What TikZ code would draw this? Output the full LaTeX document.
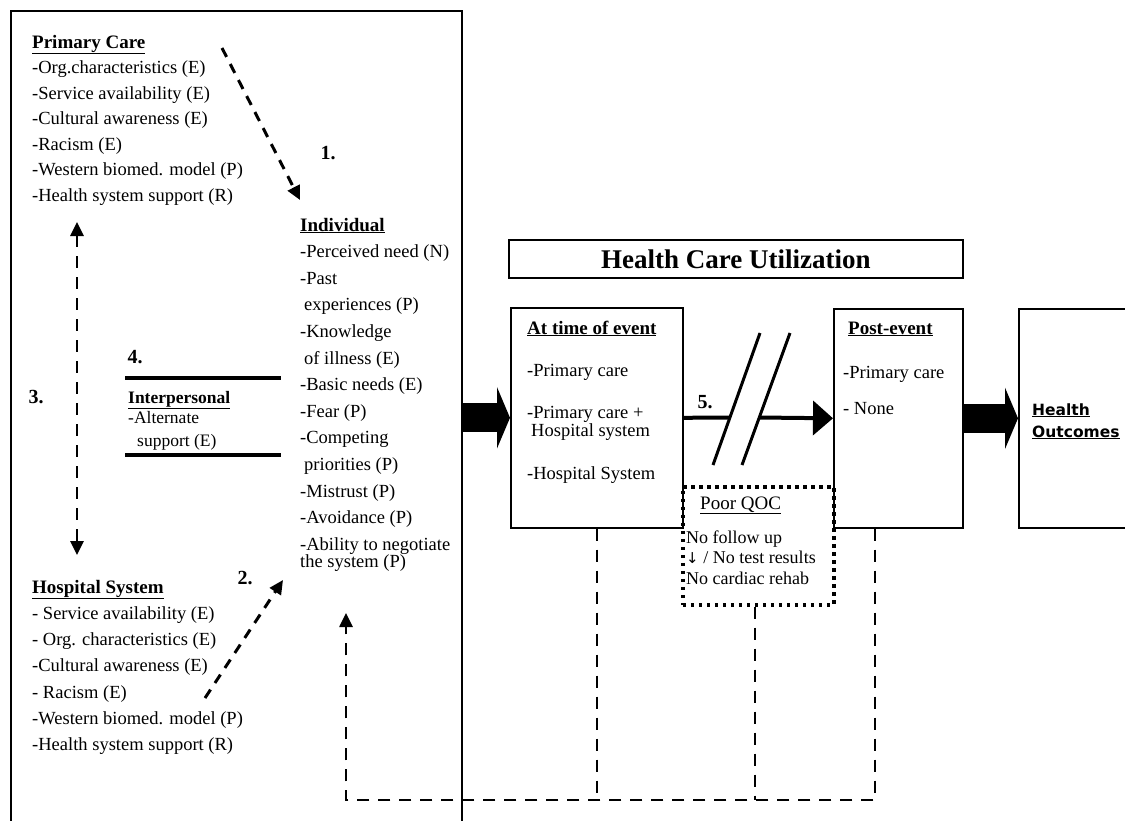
\documentclass[tikz,border=0pt]{standalone}
\usepackage{fontspec}
\setmainfont{Liberation Serif}
\newfontfamily\hofont{DejaVu Sans}
\newfontfamily\symfont{DejaVu Sans}
\usetikzlibrary{arrows.meta,calc}
\begin{document}
\begin{tikzpicture}[x=1pt,y=-1pt,
  txt/.style={font=\fontsize{18.5}{22}\selectfont, inner sep=0pt, anchor=base west},
  stxt/.style={font=\fontsize{17.5}{20}\selectfont, inner sep=0pt, anchor=base west},
  head/.style={font=\fontsize{19}{22}\selectfont\bfseries, inner sep=0pt, anchor=base west},
  num/.style={font=\fontsize{20}{22}\selectfont\bfseries, inner sep=0pt},
  box/.style={draw, line width=1.6pt, inner sep=0pt, anchor=north west},
  dasharr/.style={line width=3pt, dash pattern=on 10pt off 8pt, -{Triangle[length=14pt,width=13pt]}},
  vdash/.style={line width=2.6pt, dash pattern=on 12pt off 9pt},
  tipu/.style={-{Triangle[length=14pt,width=13pt]}},
  big/.style={line width=29pt, -{Triangle[length=13pt,width=61pt]}},
  dotbox/.style={draw, line width=3.5pt, dash pattern=on 3.5pt off 4.5pt, inner sep=0pt, anchor=north west},
]
\useasboundingbox (0,0) rectangle (1125,820);

% left panel
\node[box, minimum width=451pt, minimum height=840pt] (lp) at (10,10) {};

% Primary care
\node[head] (pch) at (32,48) {\underline{Primary Care}};
\foreach \lbl [count=\i] in {{-Org.characteristics (E)},{-Service availability (E)},{-Cultural awareness (E)},{-Racism (E)},{-Western biomed. model (P)},{-Health system support (R)}}
  \node[txt] (pc\i) at (32,{48+25.5*\i}) {\lbl};

% Individual
\node[head] (indh) at (300,231) {\underline{Individual}};
\foreach \lbl [count=\i] in {{-Perceived need (N)},{-Past},{\hspace{4pt}experiences (P)},{-Knowledge},{\hspace{4pt}of illness (E)},{-Basic needs (E)},{-Fear (P)},{-Competing},{\hspace{4pt}priorities (P)},{-Mistrust (P)},{-Avoidance (P)},{-Ability to negotiate}}
  \node[txt] (in\i) at (300,{231+26.6*\i}) {\lbl};
\node[txt] (in13) at (300,567) {the system (P)};

% arrow 1
\coordinate (a1s) at (222,48);
\coordinate (a1e) at (300,200);
\draw[dasharr] (a1s) -- (a1e);
\node[num] (n1) at (328,153) {1.};

% arrow 3
\coordinate (a3t) at (77,222);
\coordinate (a3b) at (77,555);
\draw[vdash, {Triangle[length=14pt,width=13pt]}-{Triangle[length=14pt,width=13pt]}] (a3t) -- (a3b);
\node[num] (n3) at (36,397) {3.};

% interpersonal
\node[num] (n4) at (135,357) {4.};
\coordinate (l1a) at (125,378); \coordinate (l1b) at (281,378);
\coordinate (l2a) at (125,455); \coordinate (l2b) at (281,455);
\draw[line width=4pt] (l1a) -- (l1b);
\draw[line width=4pt] (l2a) -- (l2b);
\node[head, font=\fontsize{17.5}{20}\selectfont\bfseries] (iph) at (128,403) {\underline{Interpersonal}};
\node[stxt] (ip1) at (128,423) {-Alternate};
\node[stxt] (ip2) at (137,446) {support (E)};

% Hospital system
\node[head] (hsh) at (32,593) {\underline{Hospital System}};
\foreach \lbl [count=\i] in {{- Service availability (E)},{- Org. characteristics (E)},{-Cultural awareness (E)},{- Racism (E)},{-Western biomed. model (P)},{-Health system support (R)}}
  \node[txt] (hs\i) at (32,{593+26.3*\i}) {\lbl};

% arrow 2
\coordinate (a2s) at (205,698);
\coordinate (a2e) at (283,580);
\draw[dasharr] (a2s) -- (a2e);
\node[num] (n2) at (245,578) {2.};

% Health care utilization
\node[box, minimum width=454pt, minimum height=38pt, font=\fontsize{27}{30}\selectfont\bfseries] (hcu) at (508,239) {Health Care Utilization};

% boxes
\node[box, minimum width=172pt, minimum height=220pt] (at) at (510,307) {};
\node[box, minimum width=129pt, minimum height=219pt] (pe) at (833,308) {};
\node[box, minimum width=140pt, minimum height=219pt] (ho) at (1018,308) {};

\node[head] (ath) at (527,334) {\underline{At time of event}};
\node[txt] (at1) at (527,376) {-Primary care};
\node[txt] (at2) at (527,418) {-Primary care +};
\node[txt] (at3) at (531,436) {Hospital system};
\node[txt] (at4) at (527,479) {-Hospital System};

\node[head] (peh) at (848,334) {\underline{Post-event}};
\node[txt] (pe1) at (843,378) {-Primary care};
\node[txt] (pe2) at (843,414) {- None};

\node[font=\hofont\bfseries\fontsize{15.5}{20}\selectfont, inner sep=0pt, anchor=base west] (ho1) at (1032,415) {\underline{Health}};
\node[font=\hofont\bfseries\fontsize{15.5}{20}\selectfont, inner sep=0pt, anchor=base west] (ho2) at (1032,437) {\underline{Outcomes}};

% big arrows
\draw[big] (lp.east |- at.west) -- (at.west);
\draw[big] (pe.east) -- (ho.west);

% arrow 5 with break
\coordinate (s1) at (730,417.5);
\coordinate (s2) at (759,417.5);
\draw[line width=4pt] (at.east) -- (s1);
\draw[line width=4pt, -{Triangle[length=20pt,width=34pt]}] (s2) -- (pe.west);
\draw[line width=3pt] (713,465) -- (760,333);
\draw[line width=3pt] (742,465) -- (790,333);
\node[num] (n5) at (705,402) {5.};

% Poor QOC
\node[dotbox, minimum width=151pt, minimum height=118pt] (qoc) at (681,485) {};
\node[txt, font=\fontsize{19}{22}\selectfont] (qh) at (700,509) {\underline{Poor QOC}};
\node[txt, font=\fontsize{18}{20}\selectfont] (q1) at (686,543) {No follow up};
\node[txt, font=\fontsize{18}{20}\selectfont] (q2) at (686,563) {{\symfont\fontsize{15}{20}\selectfont↓} / No test results};
\node[txt, font=\fontsize{18}{20}\selectfont] (q3) at (686,584) {No cardiac rehab};

% feedback loop
\coordinate (x1) at (597,800);
\coordinate (x2) at (755,800);
\coordinate (x3) at (875,800);
\coordinate (x0) at (346,800);
\coordinate (xt) at (346,613);
\draw[vdash, tipu] (pe.south -| x3) -- (x3) -- (x0) -- (xt);
\draw[vdash] (at.south -| x1) -- (x1);
\draw[vdash] (qoc.south -| x2) -- (x2);
\end{tikzpicture}
\end{document}
